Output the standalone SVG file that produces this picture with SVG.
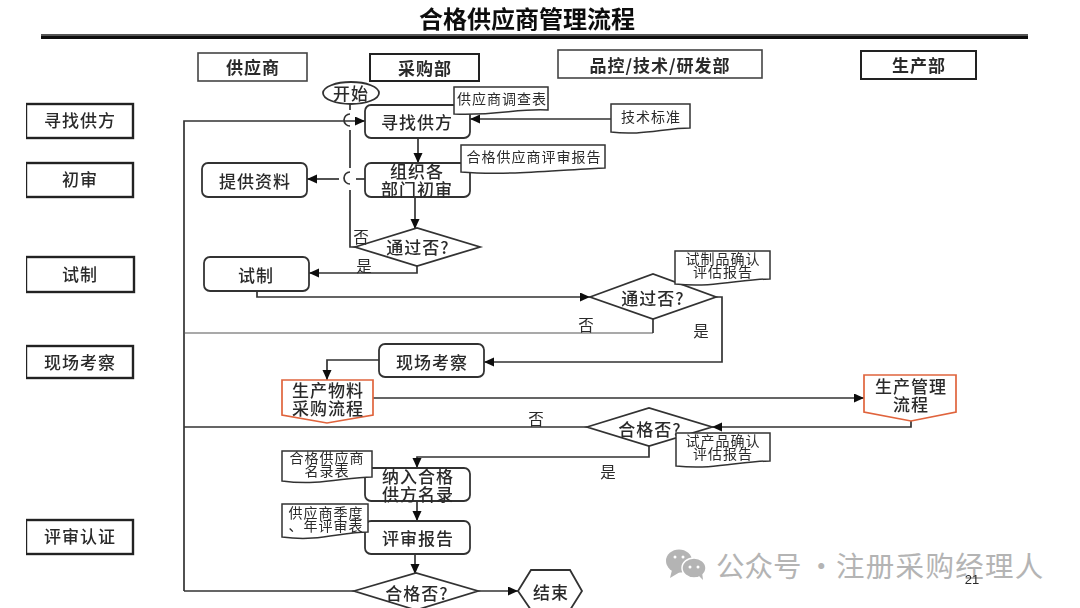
<svg xmlns="http://www.w3.org/2000/svg" width="1080" height="608" viewBox="0 0 1080 608">
<defs>
<marker id="arrow" markerUnits="userSpaceOnUse" markerWidth="11" markerHeight="10" refX="10" refY="4.500" orient="auto"><path d="M0 0L10 4.500L0 9Z" fill="#111"/></marker>
<filter id="soft" x="0" y="0" width="100%" height="100%"><feGaussianBlur stdDeviation="0.4"/></filter>
</defs>
<style>
text{font-family:"Noto Sans CJK SC","Noto Sans",sans-serif;fill:#2a2a2a;text-anchor:middle;dominant-baseline:central}
.b{font-size:17px;font-weight:500;letter-spacing:1px}
.h{font-size:17px;font-weight:700;letter-spacing:1px}
.d{font-size:14px;letter-spacing:1px}
.l{font-size:15.500px}
.lane{fill:#fff;stroke:#222;stroke-width:2.4}
.head{fill:#fff;stroke:#444;stroke-width:1.6}
.box{fill:#fff;stroke:#333;stroke-width:1.8}
.doc{fill:#fff;stroke:#333;stroke-width:1.5}
.org{fill:#fff;stroke:#e0643c;stroke-width:1.7}
.c{fill:none;stroke:#333;stroke-width:1.7}
.t{fill:none;stroke:#555;stroke-width:1.1}
.a{marker-end:url(#arrow)}
</style>
<rect width="1080" height="608" fill="#fff"/>
<g filter="url(#soft)">
<g id="title">
<text x="527" y="17" font-size="24" font-weight="700" style="fill:#111">合格供应商管理流程</text>
<path d="M41 35H1028" stroke="#555" stroke-width="2"/><path d="M41 37.500H1028" stroke="#111" stroke-width="3"/>
</g>
<g id="connectors">
<path class="c a" d="M184 591V121H365"/>
<path class="c" d="M350 104V110M350 130V168M350 190V247H358"/>
<path class="c" d="M350 114A6 6 0 0 0 350 126M350 172A6 6 0 0 0 350 184"/>
<path class="c" d="M365 179H356"/>
<path class="c a" d="M339 179H307"/>
<path class="c a" d="M611 119H470"/>
<path class="c a" d="M418 138V163"/>
<path class="c a" d="M415 197V229"/>
<path class="c a" d="M417 266V273H309"/>
<path class="c a" d="M257 291V297H590"/>
<path class="t" d="M653 333H184"/>
<path class="c" d="M653 319V333"/>
<path class="c a" d="M716 297H722V362H484"/>
<path class="c a" d="M379 360H327V380"/>
<path class="c a" d="M373 398H864"/>
<path class="c a" d="M911 421V427H712"/>
<path class="c" d="M587 427H184"/>
<path class="c a" d="M649 446V457H417V468"/>
<path class="c a" d="M417 501V521"/>
<path class="c a" d="M415 554V574"/>
<path class="c" d="M354 591H184"/>
<path class="c a" d="M478 591H518"/>
</g>
<g id="lane-find"><rect class="lane" x="26" y="104" width="107" height="34"/><text class="b" x="80" y="119">寻找供方</text></g>
<g id="lane-review"><rect class="lane" x="26" y="163" width="107" height="34"/><text class="b" x="80" y="178">初审</text></g>
<g id="lane-trial"><rect class="lane" x="26" y="257" width="108" height="35"/><text class="b" x="80" y="273">试制</text></g>
<g id="lane-visit"><rect class="lane" x="26" y="346" width="107" height="32"/><text class="b" x="80" y="361">现场考察</text></g>
<g id="lane-cert"><rect class="lane" x="26" y="520" width="107" height="34"/><text class="b" x="80" y="535">评审认证</text></g>
<g id="head-supplier"><rect class="head" x="198" y="53" width="109" height="28"/><text class="h" x="253" y="66">供应商</text></g>
<g id="head-purchase"><rect class="lane" style="stroke-width:2" x="370" y="54" width="109" height="27"/><text class="h" x="425" y="67">采购部</text></g>
<g id="head-qc"><rect class="head" x="558" y="50" width="204" height="28"/><text class="h" x="660" y="64">品控/技术/研发部</text></g>
<g id="head-prod"><rect class="lane" style="stroke-width:2" x="861" y="51" width="115" height="28"/><text class="h" x="919" y="64">生产部</text></g>
<g id="start"><ellipse class="box" cx="351" cy="93" rx="28" ry="11"/><text class="b" x="351" y="92">开始</text></g>
<g id="find"><rect class="box" x="365" y="105" width="105" height="33" rx="6"/><text class="b" x="417" y="121">寻找供方</text></g>
<g id="doc-survey"><path class="doc" d="M454 87H548V110C520 108 495 116 454 114Z"/><text class="d" x="502" y="98">供应商调查表</text></g>
<g id="doc-tech"><path class="doc" d="M611 104H690V128C665 128 640 136 611 132Z"/><text class="d" x="651" y="116">技术标准</text></g>
<g id="organize"><rect class="box" x="365" y="163" width="105" height="34" rx="6"/><text class="b" x="417" y="170">组织各</text><text class="b" x="417" y="188">部门初审</text></g>
<g id="doc-report"><path class="doc" d="M461 145H605V168C570 169 510 176 461 172Z"/><text class="d" x="534" y="156">合格供应商评审报告</text></g>
<g id="provide"><rect class="box" x="202" y="163" width="105" height="34" rx="6"/><text class="b" x="255" y="180">提供资料</text></g>
<g id="pass1"><path class="box" d="M355 247L417 228L480 247L417 266Z"/><text class="b" x="418" y="246">通过否?</text></g>
<g id="trial"><rect class="box" x="204" y="257" width="105" height="34" rx="6"/><text class="b" x="256" y="274">试制</text></g>
<g id="pass2"><path class="box" d="M590 297L653 274L716 297L653 319Z"/><text class="b" x="653" y="297">通过否?</text></g>
<g id="doc-trial"><path class="doc" d="M675 251H770V279C740 279 715 288 675 284Z"/><text class="d" x="723" y="258">试制品确认</text><text class="d" x="723" y="271">评估报告</text></g>
<g id="visit"><rect class="box" x="379" y="344" width="105" height="33" rx="6"/><text class="b" x="432" y="361">现场考察</text></g>
<g id="material"><path class="org" d="M282 380H373V415L327 423L282 415Z"/><text class="b" x="328" y="389">生产物料</text><text class="b" x="328" y="407">采购流程</text></g>
<g id="production"><path class="org" d="M864 375H956V412L911 421L864 412Z"/><text class="b" x="911" y="385">生产管理</text><text class="b" x="911" y="403">流程</text></g>
<g id="qualified1"><path class="box" d="M587 427L649 408L712 427L649 446Z"/><text class="b" x="650" y="428">合格否?</text></g>
<g id="doc-product"><path class="doc" d="M676 433H770V461C740 461 715 470 676 466Z"/><text class="d" x="723" y="440">试产品确认</text><text class="d" x="723" y="453">评估报告</text></g>
<g id="include"><rect class="box" x="365" y="468" width="105" height="33" rx="6"/><text class="b" x="418" y="475">纳入合格</text><text class="b" x="418" y="493">供方名录</text></g>
<g id="doc-list"><path class="doc" d="M282 451H372V477C345 477 320 486 282 481Z"/><text class="d" x="327" y="457">合格供应商</text><text class="d" x="327" y="470">名录表</text></g>
<g id="report"><rect class="box" x="365" y="521" width="105" height="33" rx="6"/><text class="b" x="418" y="537">评审报告</text></g>
<g id="doc-annual"><path class="doc" d="M282 504H368V532C340 532 320 542 282 537Z"/><text class="d" x="326" y="512">供应商季度</text><text class="d" x="326" y="525">、年评审表</text></g>
<g id="qualified2"><path class="box" d="M354 591L416 573L478 591L416 610Z"/><text class="b" x="417" y="592">合格否?</text></g>
<g id="end"><path class="box" d="M518 591L531 570H570L582 591L570 610H531Z"/><text class="b" x="551" y="591">结束</text></g>
<g id="edge-labels">
<text class="l" x="361" y="236">否</text><text class="l" x="364" y="265">是</text>
<text class="l" x="586" y="324">否</text><text class="l" x="701" y="330">是</text>
<text class="l" x="536" y="418">否</text><text class="l" x="608" y="471">是</text>
</g>
</g>
<g id="watermark">
<ellipse cx="679" cy="561" rx="13" ry="11.500" fill="#b4b4b4"/><path d="M672 570L670 578L680 572Z" fill="#b4b4b4"/>
<ellipse cx="694" cy="568" rx="12" ry="10" fill="#b4b4b4" stroke="#fff" stroke-width="1.500"/><path d="M698 575L703 580L702 572Z" fill="#b4b4b4"/>
<circle cx="675" cy="557" r="1.500" fill="#fff"/><circle cx="683" cy="557" r="1.500" fill="#fff"/><circle cx="690" cy="567" r="1.500" fill="#fff"/><circle cx="698" cy="567" r="1.500" fill="#fff"/>
<text y="564" font-size="28.500" style="fill:#b4b4b4;text-anchor:start"><tspan x="716">公众号</tspan><tspan x="807">·</tspan><tspan x="836" style="letter-spacing:1.300px">注册采购经理人</tspan></text>
</g>
<g id="page"><text x="972" y="579" font-size="13" filter="url(#soft)" style="font-family:'Liberation Sans',sans-serif">21</text></g>
</svg>
